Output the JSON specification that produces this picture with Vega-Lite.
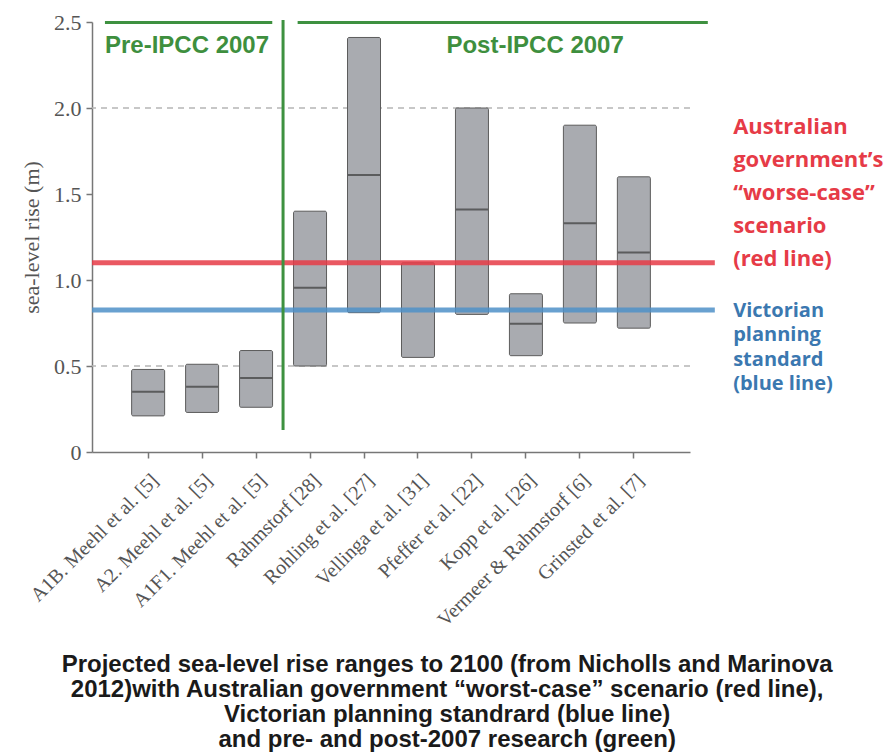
{
  "$schema": "https://vega.github.io/schema/vega-lite/v6.json",
  "width": 598,
  "height": 430,
  "autosize": {"type": "none"},
  "padding": {"left": 92, "top": 22, "right": 205, "bottom": 301},
  "background": "white",
  "config": {"view": {"stroke": null}},
  "datasets": {
    "ranges": [
      {"study": "A1B. Meehl et al. [5]", "low": 0.21, "high": 0.48, "median": 0.35},
      {"study": "A2. Meehl et al. [5]", "low": 0.23, "high": 0.51, "median": 0.38},
      {"study": "A1F1. Meehl et al. [5]", "low": 0.26, "high": 0.59, "median": 0.43},
      {"study": "Rahmstorf [28]", "low": 0.50, "high": 1.40, "median": 0.955},
      {"study": "Rohling et al. [27]", "low": 0.81, "high": 2.41, "median": 1.61},
      {"study": "Vellinga et al. [31]", "low": 0.55, "high": 1.10, "median": null},
      {"study": "Pfeffer et al. [22]", "low": 0.80, "high": 2.00, "median": 1.41},
      {"study": "Kopp et al. [26]", "low": 0.56, "high": 0.92, "median": 0.745},
      {"study": "Vermeer & Rahmstorf [6]", "low": 0.75, "high": 1.90, "median": 1.33},
      {"study": "Grinsted et al. [7]", "low": 0.72, "high": 1.60, "median": 1.16}
    ],
    "grid": [{"y": 0.5}, {"y": 2.0}],
    "hlines": [
      {"name": "red", "x": -0.04, "x2": 11.5, "y": 1.1},
      {"name": "blue", "x": -0.04, "x2": 11.5, "y": 0.825}
    ],
    "green": [
      {"name": "pre", "x": 0.2, "x2": 3.3, "y": 2.497},
      {"name": "post", "x": 3.77, "x2": 11.37, "y": 2.497}
    ],
    "divider": [{"x": 3.5, "y": 0.128, "y2": 2.512}],
    "periods": [
      {"label": "Pre-IPCC 2007", "x": 1.72, "y": 2.32},
      {"label": "Post-IPCC 2007", "x": 8.17, "y": 2.32}
    ],
    "notes": [
      {"group": "red", "x": 11.84, "y": 1.849, "text": ["Australian", "government’s", "“worse-case”", "scenario", "(red line)"]},
      {"group": "blue", "x": 11.84, "y": 0.785, "text": ["Victorian", "planning", "standard", "(blue line)"]}
    ],
    "caption": [
      {"x": 6.54, "y": -1.279, "text": ["Projected sea-level rise ranges to 2100 (from Nicholls and Marinova", "2012)with Australian government “worst-case” scenario (red line),", "Victorian planning standrard (blue line)", "and pre- and post-2007 research (green)"]}
    ]
  },
  "layer": [
    {
      "layer": [
        {
          "data": {"name": "grid"},
          "mark": {"type": "rule", "color": "#b5b5b5", "strokeWidth": 1.6, "strokeDash": [6, 5]},
          "encoding": {
            "y": {"field": "y", "type": "quantitative", "scale": {"domain": [0, 2.5], "nice": false}}
          }
        },
        {
          "data": {"name": "ranges"},
          "mark": {"type": "bar", "size": 33, "fill": "#a9abb0", "stroke": "#5c5c5c", "strokeWidth": 1, "cornerRadius": 1.5},
          "encoding": {
            "x": {
              "field": "study", "type": "nominal", "sort": null,
              "scale": {"paddingInner": 0, "paddingOuter": 0.54},
              "axis": {
                "title": null, "labelAngle": -45, "labelFont": "Liberation Serif", "labelFontSize": 20,
                "labelColor": "#555", "domainColor": "#777", "domainWidth": 1.5, "tickColor": "#777",
                "tickWidth": 1.5, "tickSize": 6, "labelPadding": 12, "labelLimit": 300
              }
            },
            "y": {
              "field": "high", "type": "quantitative",
              "scale": {"domain": [0, 2.5], "nice": false},
              "axis": {
                "title": "sea-level rise (m)", "values": [0, 0.5, 1, 1.5, 2, 2.5],
                "labelExpr": "datum.value == 0 ? '0' : format(datum.value, '.1f')",
                "grid": false, "labelFont": "Liberation Serif", "labelFontSize": 22, "labelColor": "#555",
                "domainColor": "#777", "domainWidth": 1.5, "tickColor": "#777", "tickWidth": 1.5, "tickSize": 6,
                "labelPadding": 5, "titleFont": "Liberation Serif", "titleFontSize": 22,
                "titleFontWeight": "normal", "titleColor": "#555", "titlePadding": 10
              }
            },
            "y2": {"field": "low"}
          }
        },
        {
          "data": {"name": "ranges"},
          "mark": {"type": "tick", "size": 32, "thickness": 2, "color": "#3a3a3a"},
          "encoding": {
            "x": {"field": "study", "type": "nominal", "sort": null},
            "y": {"field": "median", "type": "quantitative"}
          }
        }
      ]
    },
    {
      "layer": [
        {
          "data": {"name": "hlines"},
          "mark": {"type": "rule", "strokeWidth": 5, "opacity": 0.85},
          "encoding": {
            "x": {"field": "x", "type": "quantitative", "scale": {"domain": [-0.04, 11.04], "nice": false, "zero": false}, "axis": null},
            "x2": {"field": "x2"},
            "y": {"field": "y", "type": "quantitative"},
            "color": {"field": "name", "type": "nominal", "scale": {"domain": ["red", "blue"], "range": ["#e63b47", "#4f90c8"]}, "legend": null}
          }
        },
        {
          "data": {"name": "green"},
          "mark": {"type": "rule", "strokeWidth": 3, "color": "#3e9140"},
          "encoding": {
            "x": {"field": "x", "type": "quantitative"},
            "x2": {"field": "x2"},
            "y": {"field": "y", "type": "quantitative"}
          }
        },
        {
          "data": {"name": "divider"},
          "mark": {"type": "rule", "strokeWidth": 3, "color": "#3e9140"},
          "encoding": {
            "x": {"field": "x", "type": "quantitative"},
            "y": {"field": "y", "type": "quantitative"},
            "y2": {"field": "y2"}
          }
        },
        {
          "data": {"name": "periods"},
          "mark": {"type": "text", "font": "Liberation Sans", "fontWeight": "bold", "fontSize": 24, "color": "#3e8f3e", "align": "center", "baseline": "alphabetic"},
          "encoding": {
            "x": {"field": "x", "type": "quantitative"},
            "y": {"field": "y", "type": "quantitative"},
            "text": {"field": "label"}
          }
        },
        {
          "data": {"name": "notes"},
          "transform": [{"filter": "datum.group == 'red'"}],
          "mark": {"type": "text", "font": "Open Sans", "fontWeight": "bold", "fontSize": 22, "color": "#e63b47", "align": "left", "baseline": "alphabetic", "lineHeight": 33},
          "encoding": {
            "x": {"field": "x", "type": "quantitative"},
            "y": {"field": "y", "type": "quantitative"},
            "text": {"field": "text"}
          }
        },
        {
          "data": {"name": "notes"},
          "transform": [{"filter": "datum.group == 'blue'"}],
          "mark": {"type": "text", "font": "Open Sans", "fontWeight": "bold", "fontSize": 20, "color": "#3b78b0", "align": "left", "baseline": "alphabetic", "lineHeight": 24.5},
          "encoding": {
            "x": {"field": "x", "type": "quantitative"},
            "y": {"field": "y", "type": "quantitative"},
            "text": {"field": "text"}
          }
        },
        {
          "data": {"name": "caption"},
          "mark": {"type": "text", "font": "Liberation Sans", "fontWeight": "bold", "fontSize": 24, "color": "#1a1a1a", "align": "center", "baseline": "alphabetic", "lineHeight": 25},
          "encoding": {
            "x": {"field": "x", "type": "quantitative"},
            "y": {"field": "y", "type": "quantitative"},
            "text": {"field": "text"}
          }
        }
      ]
    }
  ],
  "resolve": {"scale": {"x": "independent", "color": "independent"}}
}
